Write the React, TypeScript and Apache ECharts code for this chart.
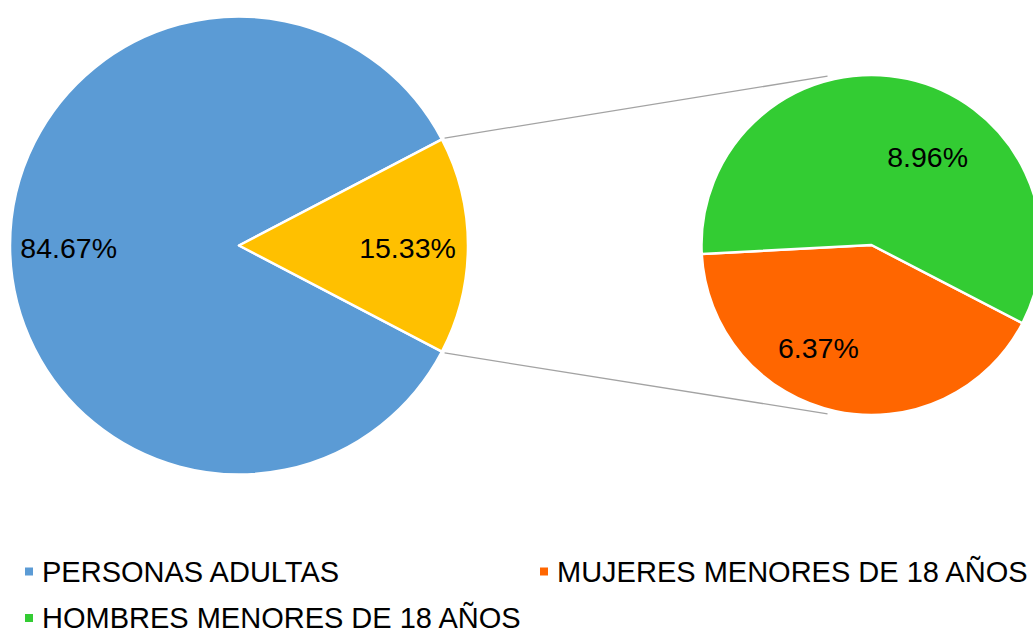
import React, { useEffect, useRef } from "react";
import * as echarts from "echarts";

// ---- data ----
const mainCategories = ["PERSONAS ADULTAS", "MENORES DE 18 AÑOS"];
const mainValues = [84.67, 15.33];
const subCategories = ["MUJERES MENORES DE 18 AÑOS", "HOMBRES MENORES DE 18 AÑOS"];
const subValues = [6.37, 8.96];
const legendRow1 = ["PERSONAS ADULTAS", "MUJERES MENORES DE 18 AÑOS"];
const legendRow2 = ["HOMBRES MENORES DE 18 AÑOS"];

// ---- styling / layout ----
const mainColors = ["#5B9BD5", "#FFC000"];
const subColors = ["#FF6600", "#33CC33"];
const FONT = "'Liberation Sans', Arial, sans-serif";
const MAIN_C = [239, 245.5];
const MAIN_R = 229;
const SUB_C = [871.5, 245];
const SUB_R = 170;
const SUB_START = 332.6;
const mainLabelShift = [
  [-52.8, 2.5],
  [51, 2.5],
];
const subLabelShift = [
  [-34.5, 17],
  [37.5, -2],
];

export default function App() {
  const ref = useRef<HTMLDivElement>(null);

  useEffect(() => {
    if (!ref.current) return;
    const chart = echarts.init(ref.current, undefined, { renderer: "svg" });

    const mainTotal = mainValues.reduce((a, b) => a + b, 0);
    const half = (mainValues[1] / mainTotal) * 180;
    const mainStart = 360 - half;

    const rad = (d: number) => (d * Math.PI) / 180;
    const startR = MAIN_R + 3;
    const endR = SUB_R + 4.5;
    const endAng = 104.6;
    const lineStyle = { stroke: "#a3a3a3", lineWidth: 1.3 };
    const connectors = [1, -1].map((s) => ({
      type: "line",
      silent: true,
      z: -1,
      shape: {
        x1: MAIN_C[0] + startR * Math.cos(rad(half)),
        y1: MAIN_C[1] - s * startR * Math.sin(rad(half)),
        x2: SUB_C[0] + endR * Math.cos(rad(endAng)),
        y2: SUB_C[1] - s * endR * Math.sin(rad(endAng)),
      },
      style: lineStyle,
    }));

    const labelCommon = {
      show: true,
      position: "inside",
      color: "#000",
      fontFamily: FONT,
      fontSize: 28.5,
      formatter: (p: any) => `${Number(p.value).toFixed(2)}%`,
    };

    const legendCommon = {
      orient: "horizontal",
      padding: 0,
      icon: "rect",
      itemWidth: 10,
      itemHeight: 10,
      selectedMode: false,
      textStyle: {
        color: "#000",
        fontFamily: FONT,
        fontSize: 29,
        padding: [0, 0, 0, 3],
      },
    };

    chart.setOption({
      animation: false,
      backgroundColor: "#fff",
      legend: [
        { ...legendCommon, data: [legendRow1[0]], left: 23, top: 557 },
        { ...legendCommon, data: [legendRow1[1]], left: 538, top: 557 },
        { ...legendCommon, data: legendRow2, left: 23, top: 603.5 },
      ],
      graphic: connectors,
      series: [
        {
          type: "pie",
          name: "main",
          center: MAIN_C,
          radius: MAIN_R,
          startAngle: mainStart,
          clockwise: true,
          silent: true,
          itemStyle: { borderColor: "#fff", borderWidth: 2.5 },
          label: labelCommon,
          labelLine: { show: false },
          labelLayout: (p: any) => ({
            dx: mainLabelShift[p.dataIndex][0],
            dy: mainLabelShift[p.dataIndex][1],
          }),
          data: mainCategories.map((n, i) => ({
            name: n,
            value: mainValues[i],
            itemStyle: { color: mainColors[i] },
          })),
        },
        {
          type: "pie",
          name: "sub",
          center: SUB_C,
          radius: SUB_R,
          startAngle: SUB_START,
          clockwise: true,
          silent: true,
          itemStyle: { borderColor: "#fff", borderWidth: 2.5 },
          label: labelCommon,
          labelLine: { show: false },
          labelLayout: (p: any) => ({
            dx: subLabelShift[p.dataIndex][0],
            dy: subLabelShift[p.dataIndex][1],
          }),
          data: subCategories.map((n, i) => ({
            name: n,
            value: subValues[i],
            itemStyle: { color: subColors[i] },
          })),
        },
      ],
    });

    return () => chart.dispose();
  }, []);

  return (
    <div
      ref={ref}
      style={{ position: "fixed", left: 0, top: 0, width: 1033, height: 633 }}
    />
  );
}
